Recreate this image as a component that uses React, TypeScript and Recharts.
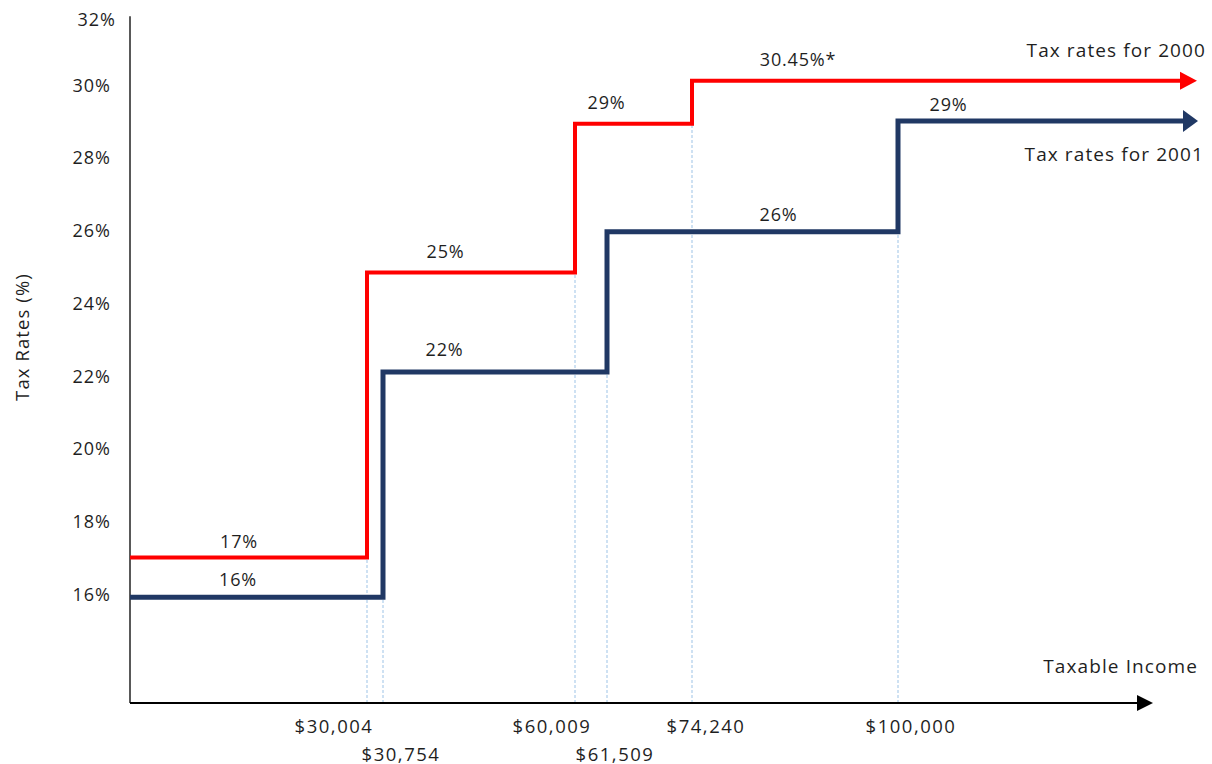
import { LineChart, Line, XAxis, YAxis, ReferenceLine, ReferenceDot } from "recharts";

// x is measured in the drawing's own units along the income axis (the axis is not to scale)
const incomeBreaks = [237, 253, 445, 477, 562, 768];
const incomeLabels = ["$30,004", "$30,754", "$60,009", "$61,509", "$74,240", "$100,000"];
const yTicks = [16, 18, 20, 22, 24, 26, 28, 30, 32];

const steps2000 = [0, 237, 445, 562, 1050];
const rates2000 = [17, 24.84, 28.93, 30.11, 30.11];
const steps2001 = [0, 253, 477, 768, 1053];
const rates2001 = [15.91, 22.1, 25.96, 29, 29];

const rateText2000 = ["17%", "25%", "29%", "30.45%*"];
const rateText2001 = ["16%", "22%", "26%", "29%"];
// where each rate label sits (x in axis units, y in %)
const rateTextX2000 = [109, 315.5, 476.5, 668];
const rateTextY2000 = [17.45, 25.44, 29.53, 30.72];
const rateTextX2001 = [108, 314.5, 648.5, 818.5];
const rateTextY2001 = [16.4, 22.74, 26.45, 29.48];

const RED = "#ff0000";
const NAVY = "#203864";
const GUIDE = "#9dc3e6";
const TEXT = "#1f1f1f";
const FONT = "'Open Sans', sans-serif";

// tick label nudges: [dx, row]
const tickDx = [-33, 18, -23, 8, 14, 13];
const tickRow = [0, 1, 0, 1, 0, 0];

const data2000 = steps2000.map((x, i) => ({ x, rate: rates2000[i] }));
const data2001 = steps2001.map((x, i) => ({ x, rate: rates2001[i] }));

const guides = [
  ...incomeBreaks.filter((_, i) => i % 2 === 0).map((x, i) => ({ x, top: rates2000[i] })),
  ...incomeBreaks.filter((_, i) => i % 2 === 1).map((x, i) => ({ x, top: rates2001[i] })),
].sort((a, b) => a.x - b.x);

function arrowDot(color: string, len: number, half: number, last: number) {
  return (p: any) => {
    if (p.index !== last) return <g key={`d${p.index}`} />;
    return (
      <polygon
        key={`d${p.index}`}
        points={`${p.cx},${p.cy - half} ${p.cx + len},${p.cy} ${p.cx},${p.cy + half}`}
        fill={color}
      />
    );
  };
}

function IncomeTick(props: any) {
  const { x, y, index } = props;
  const i = index ?? incomeBreaks.indexOf(props.payload.value);
  return (
    <text
      x={x + tickDx[i]}
      y={y + 14 + tickRow[i] * 28}
      textAnchor="middle"
      dominantBaseline="central"
      fontFamily={FONT}
      fontSize={18.5}
      letterSpacing={1.5}
      fill={TEXT}
    >
      {incomeLabels[i]}
    </text>
  );
}

function RateTick(props: any) {
  const { y, payload } = props;
  const top = payload.value === 32;
  return (
    <text
      x={top ? 116 : 111}
      y={y + (top ? 6.5 : 0)}
      textAnchor="end"
      dominantBaseline="central"
      fontFamily={FONT}
      fontSize={18}
      letterSpacing={1}
      fill={TEXT}
    >
      {`${payload.value}%`}
    </text>
  );
}

function labelShape(text: string) {
  return (p: any) => (
    <text
      x={p.cx}
      y={p.cy}
      textAnchor="middle"
      dominantBaseline="central"
      fontFamily={FONT}
      fontSize={18}
      letterSpacing={0.8}
      fill={TEXT}
    >
      {text}
    </text>
  );
}

const titleStyle = { fontFamily: FONT, fontSize: 19, letterSpacing: 1.1, fill: TEXT };

export default function App() {
  return (
    <div style={{ position: "absolute", left: 0, top: 0, background: "#fff" }}>
      <LineChart width={1212} height={764} margin={{ top: 12, right: 12, left: 0, bottom: 0 }}>
        <XAxis
          type="number"
          dataKey="x"
          domain={[0, 1070]}
          ticks={incomeBreaks}
          interval={0}
          axisLine={false}
          tickLine={false}
          height={61}
          tick={<IncomeTick />}
        />
        <YAxis
          type="number"
          domain={[13, 32]}
          ticks={yTicks}
          width={130}
          axisLine={false}
          tickLine={false}
          tick={<RateTick />}
        />

        {guides.map((g) => (
          <ReferenceLine
            key={`g${g.x}`}
            segment={[{ x: g.x, y: 13 }, { x: g.x, y: g.top }]}
            stroke={GUIDE}
            strokeWidth={1}
            strokeDasharray="3 2"
          />
        ))}

        <ReferenceLine segment={[{ x: 0, y: 13 }, { x: 0, y: 31.88 }]} stroke="#595959" strokeWidth={2} />
        <ReferenceLine segment={[{ x: 0, y: 13 }, { x: 1007, y: 13 }]} stroke="#000" strokeWidth={2} />
        <ReferenceDot
          x={1007}
          y={13}
          r={0}
          shape={(p: any) => (
            <polygon points={`${p.cx},${p.cy - 8} ${p.cx + 16},${p.cy} ${p.cx},${p.cy + 8}`} fill="#000" />
          )}
        />

        <Line
          data={data2000}
          dataKey="rate"
          type="stepAfter"
          stroke={RED}
          strokeWidth={4}
          dot={arrowDot(RED, 17, 9, data2000.length - 1)}
          activeDot={false}
          isAnimationActive={false}
        />
        <Line
          data={data2001}
          dataKey="rate"
          type="stepAfter"
          stroke={NAVY}
          strokeWidth={5}
          dot={arrowDot(NAVY, 15, 11, data2001.length - 1)}
          activeDot={false}
          isAnimationActive={false}
        />

        {rateText2000.map((t, i) => (
          <ReferenceDot key={`r0${i}`} x={rateTextX2000[i]} y={rateTextY2000[i]} r={0} shape={labelShape(t)} />
        ))}
        {rateText2001.map((t, i) => (
          <ReferenceDot key={`r1${i}`} x={rateTextX2001[i]} y={rateTextY2001[i]} r={0} shape={labelShape(t)} />
        ))}

        <text x={1206} y={50} textAnchor="end" dominantBaseline="central" {...titleStyle}>
          Tax rates for 2000
        </text>
        <text x={1204} y={154} textAnchor="end" dominantBaseline="central" {...titleStyle}>
          Tax rates for 2001
        </text>
        <text x={1198} y={666} textAnchor="end" dominantBaseline="central" {...titleStyle}>
          Taxable Income
        </text>
        <text
          x={21}
          y={337}
          transform="rotate(-90 21 337)"
          textAnchor="middle"
          dominantBaseline="central"
          {...titleStyle}
          fontSize={18.5}
        >
          Tax Rates (%)
        </text>
      </LineChart>
    </div>
  );
}
